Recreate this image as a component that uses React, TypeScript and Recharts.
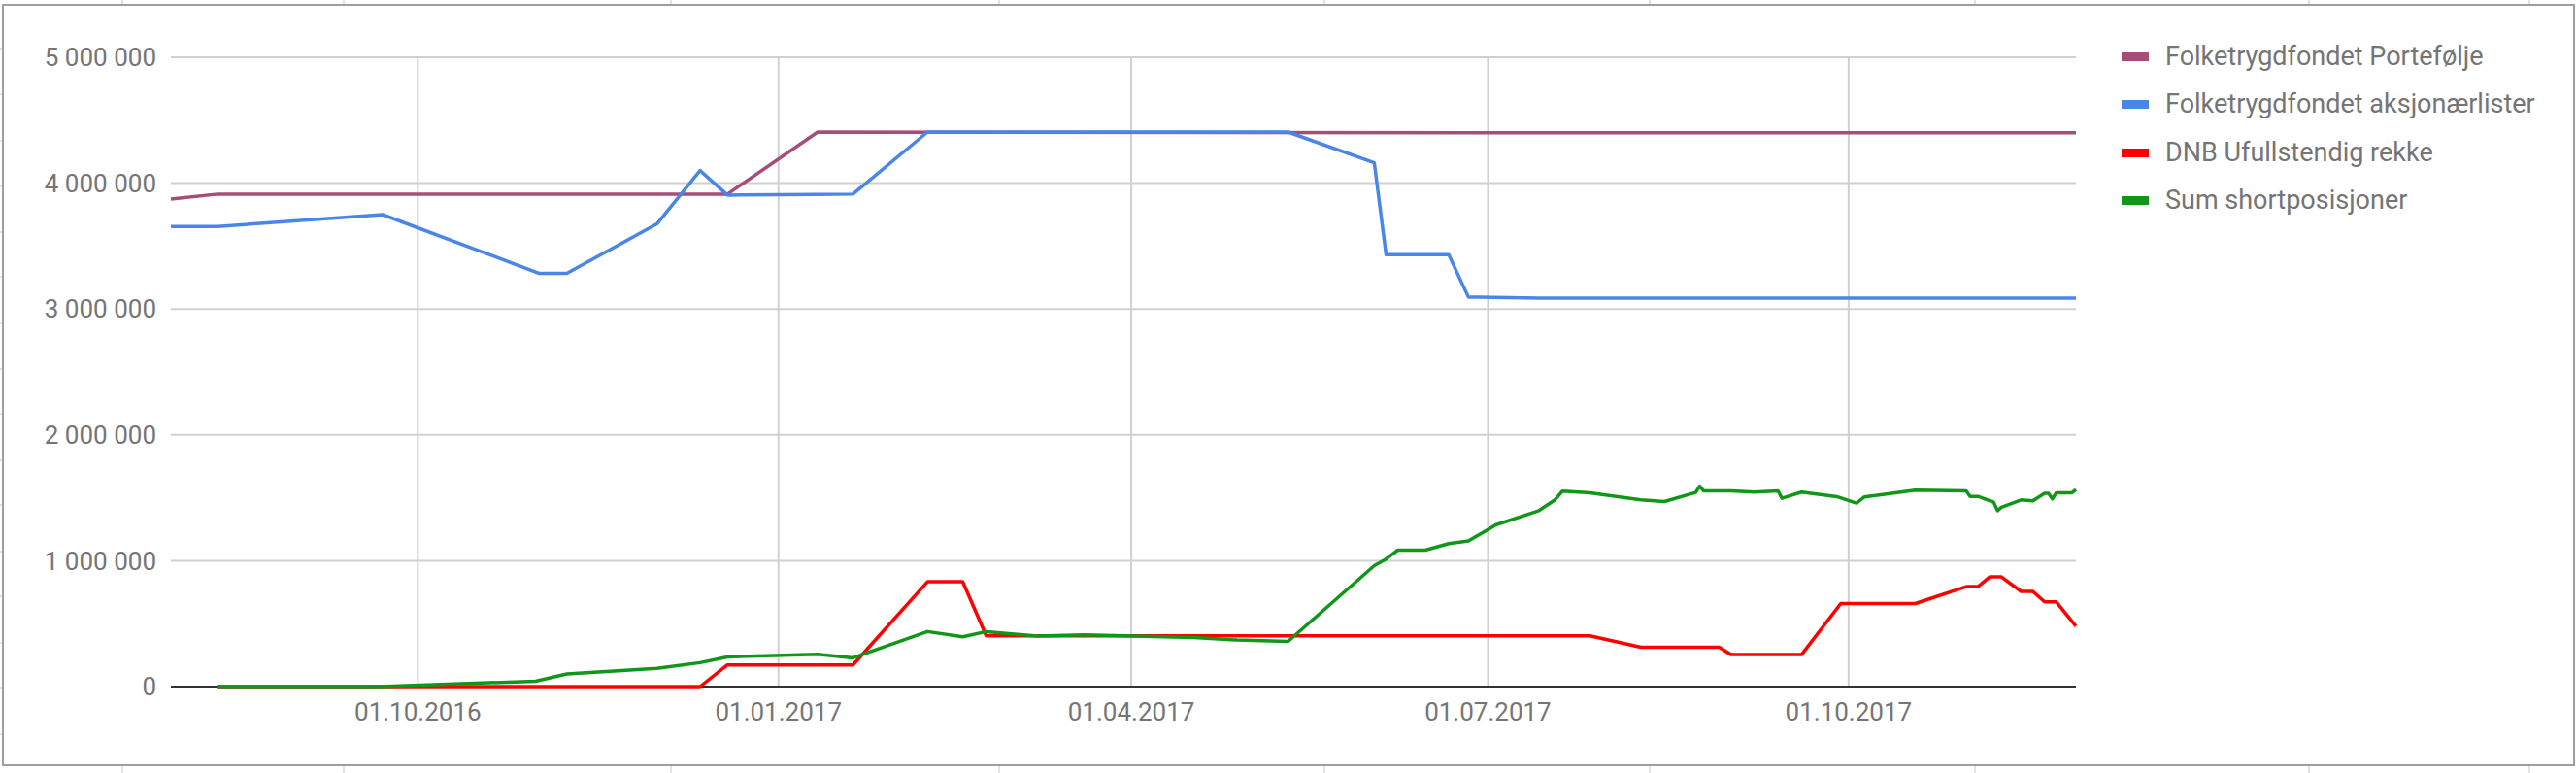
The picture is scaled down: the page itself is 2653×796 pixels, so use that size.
import { LineChart, Line, XAxis, YAxis, CartesianGrid, ReferenceLine } from "recharts";

// Folketrygdfondet Portefølje
const portfolioDates = ["2016-07-30", "2016-08-11", "2016-12-19", "2017-01-11", "2017-06-28", "2017-11-28"];
const portfolioValues = [3874000, 3913000, 3913000, 4406000, 4400000, 4400000];

// Folketrygdfondet aksjonærlister
const listDates = [
  "2016-07-30", "2016-08-11", "2016-09-22", "2016-11-01", "2016-11-08", "2016-12-01",
  "2016-12-12", "2016-12-19", "2017-01-11", "2017-01-20", "2017-02-08", "2017-05-11",
  "2017-06-02", "2017-06-05", "2017-06-21", "2017-06-26", "2017-07-14", "2017-11-28",
];
const listValues = [
  3656000, 3656000, 3750000, 3283000, 3283000, 3676000,
  4100000, 3905000, 3910000, 3913000, 4406000, 4406000,
  4162000, 3432000, 3432000, 3095000, 3087000, 3087000,
];

// DNB Ufullstendig rekke
const dnbDates = [
  "2016-08-11", "2016-12-12", "2016-12-19", "2017-01-20", "2017-02-08", "2017-02-17",
  "2017-02-23", "2017-07-27", "2017-08-09", "2017-08-29", "2017-09-01", "2017-09-19",
  "2017-09-29", "2017-10-18", "2017-10-31", "2017-11-03", "2017-11-06", "2017-11-09",
  "2017-11-14", "2017-11-17", "2017-11-20", "2017-11-23", "2017-11-28",
];
const dnbValues = [
  0, 0, 172000, 172000, 833000, 833000,
  403000, 403000, 313000, 313000, 254000, 254000,
  660000, 660000, 794000, 794000, 871000, 871000,
  756000, 756000, 673000, 673000, 480000,
];

// Sum shortposisjoner
const shortDates = [
  "2016-08-11", "2016-09-21", "2016-10-31", "2016-11-08", "2016-12-01", "2016-12-12",
  "2016-12-19", "2017-01-11", "2017-01-20", "2017-02-08", "2017-02-17", "2017-02-23",
  "2017-03-08", "2017-03-20", "2017-04-17", "2017-04-28", "2017-05-11", "2017-06-02",
  "2017-06-05", "2017-06-08", "2017-06-15", "2017-06-21", "2017-06-26", "2017-07-03",
  "2017-07-14", "2017-07-18", "2017-07-20", "2017-07-27", "2017-08-09", "2017-08-15",
  "2017-08-23", "2017-08-24", "2017-08-25", "2017-09-01", "2017-09-07", "2017-09-13",
  "2017-09-14", "2017-09-19", "2017-09-28", "2017-10-03", "2017-10-05", "2017-10-18",
  "2017-10-31", "2017-11-01", "2017-11-03", "2017-11-07", "2017-11-08", "2017-11-09",
  "2017-11-14", "2017-11-17", "2017-11-20", "2017-11-21", "2017-11-22", "2017-11-23",
  "2017-11-27", "2017-11-28",
];
const shortValues = [
  0, 0, 43000, 100000, 144000, 190000,
  236000, 257000, 228000, 437000, 396000, 437000,
  401000, 411000, 390000, 370000, 359000, 961000,
  1013000, 1084000, 1084000, 1136000, 1157000, 1285000,
  1398000, 1481000, 1553000, 1539000, 1483000, 1470000,
  1542000, 1593000, 1555000, 1555000, 1545000, 1555000,
  1496000, 1545000, 1509000, 1458000, 1506000, 1560000,
  1555000, 1511000, 1511000, 1465000, 1398000, 1424000,
  1483000, 1475000, 1535000, 1535000, 1491000, 1540000,
  1540000, 1566000,
];

const seriesNames = [
  "Folketrygdfondet Portefølje",
  "Folketrygdfondet aksjonærlister",
  "DNB Ufullstendig rekke",
  "Sum shortposisjoner",
];
const seriesColors = ["#a64d79", "#4a86e8", "#ff0000", "#109618"];

const xDomain = ["2016-07-30", "2017-11-28"];
const xTicks = ["2016-10-01", "2017-01-01", "2017-04-01", "2017-07-01", "2017-10-01"];
const yTicks = [0, 1000000, 2000000, 3000000, 4000000, 5000000];

// spreadsheet cell borders peeking out around the chart frame
const sheetCols = [125, 353, 690, 1028, 1363, 1698, 2033, 2377, 2604];
const sheetRows = [49, 96, 144, 191, 238, 284, 332, 379, 425, 473, 519, 567, 613, 661, 707, 755];

const toTime = (s: string) => {
  const [y, m, d] = s.split("-").map(Number);
  return Date.UTC(y, m - 1, d);
};

const build = (dates: string[], values: number[]) =>
  dates.map((d, i) => ({ t: toTime(d), v: values[i] }));

const series = [
  build(portfolioDates, portfolioValues),
  build(listDates, listValues),
  build(dnbDates, dnbValues),
  build(shortDates, shortValues),
];

const pad = (n: number) => String(n).padStart(2, "0");
const fmtDate = (t: number) => {
  const d = new Date(t);
  return `${pad(d.getUTCDate())}.${pad(d.getUTCMonth() + 1)}.${d.getUTCFullYear()}`;
};
const fmtNum = (v: number) => String(v).replace(/\B(?=(\d{3})+(?!\d))/g, " ");

const FONT = "Roboto, 'Noto Sans', sans-serif";
const GRID = "#d0d0d0";

export default function App() {
  return (
    <div
      style={{
        position: "absolute",
        left: 0,
        top: 0,
        width: 2653,
        height: 796,
        background: "#fff",
        fontFamily: FONT,
        overflow: "hidden",
      }}
    >
      {sheetCols.map((x) => (
        <div key={"t" + x} style={{ position: "absolute", left: x, top: 0, width: 2, height: 4, background: "#e2e2e2" }} />
      ))}
      {sheetCols.map((x) => (
        <div key={"b" + x} style={{ position: "absolute", left: x, top: 789, width: 2, height: 7, background: "#e2e2e2" }} />
      ))}
      {sheetRows.map((y) => (
        <div key={"l" + y} style={{ position: "absolute", left: 0, top: y, width: 2, height: 2, background: "#e2e2e2" }} />
      ))}

      <div
        style={{
          position: "absolute",
          left: 2,
          top: 4,
          width: 2650,
          height: 785,
          border: "2px solid #9e9e9e",
          boxSizing: "border-box",
        }}
      />

      <div style={{ position: "absolute", left: 0, top: 0 }}>
        <LineChart
          width={2653}
          height={796}
          margin={{ top: 59, right: 515, bottom: 49, left: 0 }}
        >
          <CartesianGrid stroke={GRID} strokeWidth={2} vertical={false} />
          <XAxis
            dataKey="t"
            type="number"
            domain={[toTime(xDomain[0]), toTime(xDomain[1])]}
            ticks={xTicks.map(toTime)}
            tickFormatter={fmtDate}
            interval={0}
            height={40}
            axisLine={false}
            tickLine={false}
            tickSize={0}
            tickMargin={17}
            tick={{ fill: "#757575", fontSize: 26, fontFamily: FONT }}
          />
          <YAxis
            type="number"
            domain={[0, 5000000]}
            ticks={yTicks}
            tickFormatter={fmtNum}
            interval={0}
            width={176}
            axisLine={false}
            tickLine={false}
            tickSize={0}
            tickMargin={15}
            tick={{ fill: "#757575", fontSize: 26, fontFamily: FONT }}
          />
          {xTicks.map((d) => (
            <ReferenceLine key={d} x={toTime(d)} stroke={GRID} strokeWidth={2} />
          ))}
          <ReferenceLine y={0} stroke="#333333" strokeWidth={2} />
          {series.map((data, i) => (
            <Line
              key={seriesNames[i]}
              data={data}
              dataKey="v"
              name={seriesNames[i]}
              type="linear"
              stroke={seriesColors[i]}
              strokeWidth={3.5}
              strokeLinejoin="round"
              dot={false}
              activeDot={false}
              isAnimationActive={false}
            />
          ))}
        </LineChart>
      </div>

      <div style={{ position: "absolute", left: 2185, top: 33.5 }}>
        {seriesNames.map((name, i) => (
          <div
            key={name}
            style={{ display: "flex", alignItems: "center", height: 49.5, whiteSpace: "nowrap" }}
          >
            <div style={{ width: 28, height: 9, background: seriesColors[i], marginRight: 17 }} />
            <span style={{ fontSize: 27, lineHeight: "27px", color: "#757575" }}>{name}</span>
          </div>
        ))}
      </div>
    </div>
  );
}
